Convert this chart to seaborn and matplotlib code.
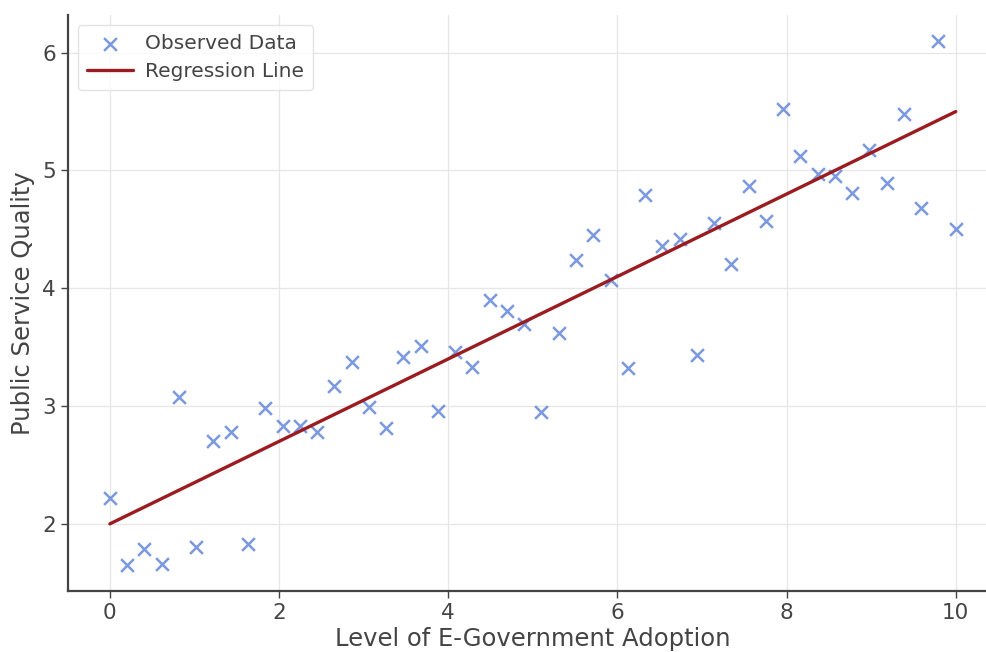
import numpy as np
import pandas as pd
import matplotlib.pyplot as plt
import seaborn as sns

# values
adoption = np.linspace(0, 10, 50)
quality = [2.22, 1.65, 1.79, 1.66, 3.08, 1.80, 2.70, 2.78, 1.83, 2.98,
           2.83, 2.83, 2.78, 3.17, 3.37, 2.99, 2.81, 3.42, 3.51, 2.96,
           3.46, 3.33, 3.90, 3.81, 3.70, 2.95, 3.62, 4.24, 4.45, 4.07,
           3.32, 4.79, 4.36, 4.42, 3.43, 4.55, 4.21, 4.87, 4.57, 5.52,
           5.12, 4.97, 4.95, 4.81, 5.17, 4.89, 5.48, 4.68, 6.10, 4.50]
reg_intercept = 2.0
reg_slope = 0.35

df = pd.DataFrame({"x": adoption, "y": quality})
df["fit"] = reg_intercept + reg_slope * df["x"]

sns.set_theme(style="whitegrid")
plt.rcParams['font.family'] = ['DejaVu Sans']
text_col = "#444444"

fig = plt.figure(figsize=(9.87, 6.52), dpi=100)
ax = fig.add_axes([0.0685, 0.0936, 0.9427, 0.8834])

sns.scatterplot(data=df, x="x", y="y", marker="x", s=85, linewidth=1.8,
                color="#5b7fd6", alpha=0.8, label="Observed Data", ax=ax)
sns.lineplot(data=df, x="x", y="fit", color="#9b1c20", linewidth=2.4,
             label="Regression Line", ax=ax)

ax.set_xlim(-0.5, 10.5)
ax.set_ylim(1.43, 6.32)
ax.set_xticks([0, 2, 4, 6, 8, 10])
ax.set_yticks([2, 3, 4, 5, 6])

ax.set_xlabel("Level of E-Government Adoption", fontsize=17.5, color=text_col, labelpad=3)
ax.set_ylabel("Public Service Quality", fontsize=17.5, color=text_col, labelpad=5)
ax.tick_params(axis="both", labelsize=15.5, colors=text_col, length=5, width=1,
               direction="out", bottom=True, left=True)
ax.grid(True, color="#e6e6e6", linewidth=0.9)

sns.despine(ax=ax, top=True, right=True)
for side in ["left", "bottom"]:
    ax.spines[side].set_color("#444444")
    ax.spines[side].set_linewidth(1.6)

leg = ax.legend(loc="upper left", fontsize=14.5, frameon=True, borderpad=0.45,
                handlelength=2.3, labelspacing=0.45, handletextpad=0.6)
leg.get_frame().set_edgecolor("#dddddd")
for t in leg.get_texts():
    t.set_color(text_col)

fig.savefig("out.png", dpi=100)
